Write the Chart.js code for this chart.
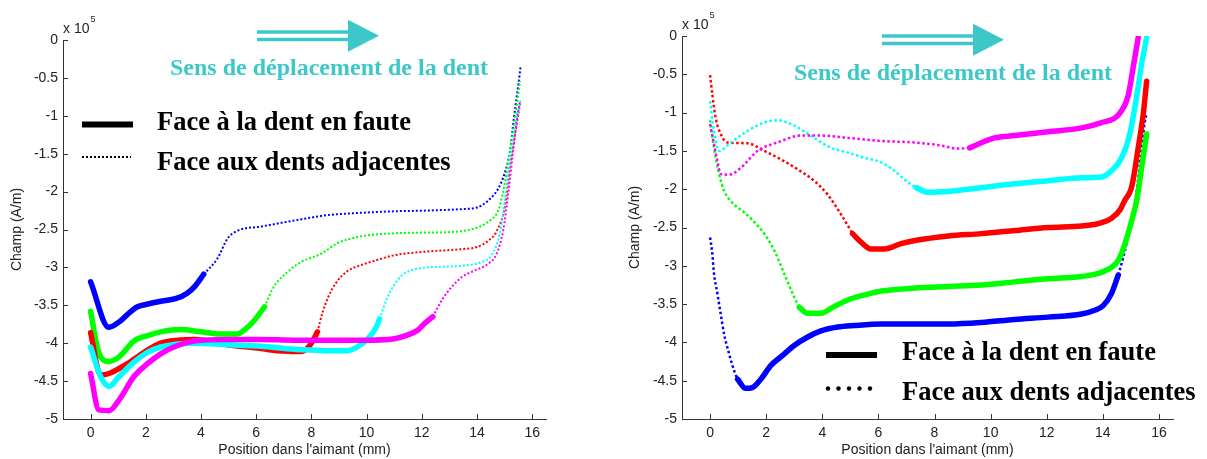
<!DOCTYPE html>
<html>
<head>
<meta charset="utf-8">
<script src="https://cdn.jsdelivr.net/npm/chart.js@4.4.0/dist/chart.umd.min.js"></script>
<style>
  html, body { margin: 0; padding: 0; background: #fff; }
  #wrap { position: relative; width: 1207px; height: 459px; overflow: hidden; }
  canvas { position: absolute; top: 0; }
  #leftChart { left: 0; }
  #rightChart { left: 600px; }
</style>
</head>
<body>
<div id="wrap">
  <canvas id="leftChart" width="600" height="459"></canvas>
  <canvas id="rightChart" width="607" height="459"></canvas>
</div>
<script>
// field values are in units of 1e5 A/m (axis shows "x 10^5")
const xTicks = [0, 2, 4, 6, 8, 10, 12, 14, 16];
const yTicks = [0, -0.5, -1, -1.5, -2, -2.5, -3, -3.5, -4, -4.5, -5];
const seriesColors = ['#0000ff', '#00ff00', '#ff0000', '#00ffff', '#ff00ff'];

const legendSolid = 'Face à la dent en faute';
const legendDotted = 'Face aux dents adjacentes';
const arrowText = 'Sens de déplacement de la dent';

// left plot: solid part first, then the dotted part
const leftBlueSolid = [[0,-3.19],[0.66,-3.79],[1.1,-3.7],[1.4,-3.6],[1.7,-3.52],[2.0,-3.49],[2.5,-3.45],[3.1,-3.41],[3.5,-3.34],[3.8,-3.24],[4.1,-3.09]];
const leftBlueDotted = [[4.1,-3.09],[4.6,-2.88],[4.96,-2.62],[5.3,-2.52],[6.2,-2.46],[7.4,-2.38],[8.6,-2.31],[9.8,-2.28],[11.0,-2.26],[12.2,-2.25],[13.5,-2.23],[14.0,-2.21],[14.4,-2.12],[14.77,-1.96],[15.0,-1.76],[15.2,-1.46],[15.34,-1.02],[15.47,-0.67],[15.58,-0.35]];

const leftGreenSolid = [[0,-3.58],[0.3,-4.13],[0.66,-4.24],[1.03,-4.18],[1.57,-3.97],[2.06,-3.9],[2.54,-3.85],[3.27,-3.82],[4.0,-3.85],[4.7,-3.88],[5.3,-3.88],[5.62,-3.81],[5.93,-3.7],[6.3,-3.52]];
const leftGreenDotted = [[6.3,-3.52],[6.65,-3.25],[7.13,-3.06],[7.62,-2.93],[8.35,-2.82],[8.95,-2.68],[9.8,-2.59],[11.0,-2.55],[12.2,-2.54],[13.2,-2.53],[14.04,-2.47],[14.5,-2.37],[14.78,-2.24],[15.0,-1.9],[15.19,-1.46],[15.38,-1.02],[15.56,-0.54]];

const leftRedSolid = [[0,-3.86],[0.36,-4.42],[0.67,-4.4],[1.33,-4.27],[1.94,-4.12],[2.54,-4.0],[3.15,-3.96],[3.75,-3.95],[4.96,-4.02],[6.17,-4.07],[6.77,-4.1],[7.62,-4.11],[7.9,-4.05],[8.05,-3.97],[8.22,-3.85]];
const leftRedDotted = [[8.22,-3.85],[8.4,-3.6],[8.6,-3.4],[8.9,-3.2],[9.3,-3.05],[9.8,-2.97],[10.4,-2.9],[11.0,-2.84],[12.2,-2.79],[13.4,-2.76],[14.0,-2.73],[14.4,-2.65],[14.7,-2.53],[15.01,-2.2],[15.19,-1.68],[15.38,-1.24],[15.56,-0.84]];

const leftCyanSolid = [[0,-4.05],[0.36,-4.44],[0.67,-4.57],[1.03,-4.44],[1.57,-4.25],[2.06,-4.12],[2.54,-4.05],[3.15,-4.01],[3.75,-4.0],[4.96,-4.02],[6.17,-4.04],[7.38,-4.08],[8.0,-4.09],[8.6,-4.1],[9.3,-4.1],[9.67,-4.05],[10.05,-3.94],[10.35,-3.79],[10.47,-3.68]];
const leftCyanDotted = [[10.47,-3.68],[10.75,-3.4],[11.0,-3.23],[11.3,-3.1],[11.6,-3.04],[12.2,-3.0],[13.4,-2.98],[14.16,-2.93],[14.53,-2.84],[14.83,-2.55],[15.01,-2.12],[15.19,-1.59],[15.38,-1.15],[15.58,-0.8]];

const leftMagentaSolid = [[0,-4.4],[0.3,-4.88],[0.67,-4.89],[1.03,-4.75],[1.57,-4.44],[2.06,-4.27],[2.54,-4.14],[3.15,-4.03],[3.75,-3.97],[4.96,-3.95],[6.17,-3.95],[7.38,-3.96],[8.6,-3.96],[9.8,-3.96],[11.0,-3.94],[11.5,-3.89],[11.85,-3.83],[12.1,-3.74],[12.4,-3.65]];
const leftMagentaDotted = [[12.4,-3.65],[12.73,-3.43],[13.08,-3.26],[13.44,-3.13],[13.92,-3.04],[14.41,-2.95],[14.71,-2.82],[14.95,-2.51],[15.13,-2.03],[15.31,-1.46],[15.44,-1.06],[15.56,-0.8]];

// right plot
const rightBlueDotted = [[0,-2.63],[0.08,-2.84],[0.14,-3.1],[0.26,-3.36],[0.38,-3.63],[0.5,-3.89],[0.68,-4.15],[0.86,-4.37],[0.98,-4.48]];
const rightBlueSolid = [[0.98,-4.48],[1.27,-4.6],[1.51,-4.59],[1.81,-4.48],[2.17,-4.3],[2.52,-4.19],[3.0,-4.04],[3.48,-3.93],[3.95,-3.85],[4.55,-3.8],[5.14,-3.78],[6.1,-3.76],[7.3,-3.76],[8.5,-3.76],[9.67,-3.74],[10.86,-3.7],[12.05,-3.67],[13.24,-3.63],[13.71,-3.58],[14.01,-3.52],[14.31,-3.36],[14.55,-3.12]];
const rightBlueDottedEnd = [[14.55,-3.12],[14.79,-2.8],[14.96,-2.49],[15.14,-2.2],[15.32,-1.67],[15.5,-1.11],[15.56,-1.02]];

const rightGreenDotted = [[0,-1.1],[0.14,-1.46],[0.32,-1.8],[0.5,-2.02],[0.86,-2.2],[1.21,-2.3],[1.5,-2.4],[1.93,-2.58],[2.29,-2.8],[2.64,-3.1],[3.0,-3.41],[3.18,-3.54]];
const rightGreenSolid = [[3.18,-3.54],[3.48,-3.62],[3.95,-3.62],[4.43,-3.53],[5.02,-3.43],[5.62,-3.37],[6.1,-3.33],[7.3,-3.29],[8.5,-3.27],[9.67,-3.25],[10.86,-3.21],[12.05,-3.17],[13.24,-3.14],[13.83,-3.1],[14.31,-3.02],[14.55,-2.93],[14.79,-2.71],[15.05,-2.38],[15.22,-2.12],[15.38,-1.72],[15.56,-1.28]];

const rightRedDotted = [[0,-0.51],[0.08,-0.76],[0.2,-1.07],[0.38,-1.28],[0.62,-1.39],[1.33,-1.4],[1.93,-1.5],[2.52,-1.61],[3.12,-1.74],[3.71,-1.89],[4.19,-2.07],[4.67,-2.33],[5.08,-2.58]];
const rightRedSolid = [[5.08,-2.58],[5.38,-2.69],[5.74,-2.78],[6.21,-2.78],[6.81,-2.71],[7.3,-2.67],[8.5,-2.61],[9.67,-2.58],[10.86,-2.54],[12.05,-2.5],[13.24,-2.48],[13.83,-2.45],[14.31,-2.38],[14.61,-2.27],[14.79,-2.14],[15.02,-1.98],[15.26,-1.46],[15.44,-1.02],[15.56,-0.59]];

const rightCyanDotted = [[0,-0.85],[0.14,-1.24],[0.32,-1.5],[0.74,-1.39],[1.33,-1.24],[1.93,-1.13],[2.4,-1.1],[3.0,-1.17],[3.71,-1.33],[4.31,-1.46],[4.9,-1.52],[5.5,-1.59],[6.1,-1.65],[6.57,-1.76],[7.05,-1.91],[7.35,-1.98]];
const rightCyanSolid = [[7.35,-1.98],[7.76,-2.04],[8.5,-2.03],[9.67,-1.98],[10.86,-1.93],[12.05,-1.89],[13.24,-1.85],[13.95,-1.84],[14.31,-1.76],[14.67,-1.59],[14.96,-1.28],[15.2,-0.8],[15.38,-0.37],[15.56,-0.02]];

const rightMagentaDotted = [[0,-1.15],[0.14,-1.41],[0.26,-1.63],[0.38,-1.8],[0.68,-1.81],[1.1,-1.72],[1.69,-1.5],[2.4,-1.39],[3.24,-1.3],[3.95,-1.3],[4.9,-1.33],[6.1,-1.37],[7.3,-1.39],[8.24,-1.43],[8.83,-1.47],[9.25,-1.46]];
const rightMagentaSolid = [[9.25,-1.46],[10.14,-1.33],[10.86,-1.3],[12.05,-1.25],[13.24,-1.2],[13.95,-1.13],[14.55,-1.03],[14.9,-0.78],[15.08,-0.41],[15.26,-0.02]];

const axisColor = '#333333';
const textColor = '#222222';
const cyanText = '#3cc8c8';
const sansFont = '"Liberation Sans", Arial, sans-serif';
const serifFont = '"Liberation Serif", "Times New Roman", serif';

const decorPlugin = {
    id: 'decor',
    afterDraw(chart, args, o) {
        const c = chart.ctx;
        const { left, top, bottom } = chart.chartArea;
        c.save();

        // tick marks drawn inside the axes
        c.strokeStyle = axisColor;
        c.lineWidth = 1;
        xTicks.forEach(v => {
            const px = Math.round(chart.scales.x.getPixelForValue(v)) + 0.5;
            c.beginPath(); c.moveTo(px, bottom); c.lineTo(px, bottom - 5); c.stroke();
        });
        yTicks.forEach(v => {
            const py = Math.round(chart.scales.y.getPixelForValue(v)) + 0.5;
            c.beginPath(); c.moveTo(left, py); c.lineTo(left + 5, py); c.stroke();
        });

        // x 10^5
        c.fillStyle = textColor;
        c.textAlign = 'left';
        c.textBaseline = 'alphabetic';
        c.font = '14px ' + sansFont;
        c.fillText('x 10', left, top - 7);
        const w = c.measureText('x 10').width;
        c.font = '9px ' + sansFont;
        c.fillText('5', left + w + 1, top - 18);

        // arrow
        const a = o.arrow;
        c.strokeStyle = cyanText;
        c.fillStyle = cyanText;
        c.lineWidth = 3.5;
        [-3.8, 3.8].forEach(d => {
            c.beginPath(); c.moveTo(a.x0, a.y + d); c.lineTo(a.x1, a.y + d); c.stroke();
        });
        c.beginPath();
        c.moveTo(a.x1, a.y - 16); c.lineTo(a.tip, a.y); c.lineTo(a.x1, a.y + 16);
        c.closePath(); c.fill();

        c.font = 'bold 24px ' + serifFont;
        c.fillText(arrowText, o.sens.x, o.sens.y);

        // legend
        const g = o.legend;
        c.strokeStyle = '#000';
        c.fillStyle = '#000';
        c.lineWidth = 6;
        c.beginPath(); c.moveTo(g.x0, g.solidY); c.lineTo(g.x1, g.solidY); c.stroke();
        if (g.roundDots) {
            for (let i = 0; i < 5; i++) {
                c.beginPath();
                c.arc(g.x0 + 2 + i * 10.5, g.dotY, 2.2, 0, Math.PI * 2);
                c.fill();
            }
        } else {
            c.lineWidth = 2;
            c.setLineDash([2, 2]);
            c.beginPath(); c.moveTo(g.x0, g.dotY); c.lineTo(g.x1 - 2, g.dotY); c.stroke();
            c.setLineDash([]);
        }
        c.font = 'bold 26.5px ' + serifFont;
        c.fillText(legendSolid, g.textX, g.base1);
        c.fillText(legendDotted, g.textX, g.base2);

        c.restore();
    }
};

function buildDatasets(parts, look) {
    let sets = [];
    parts.forEach((segs, i) => {
        segs.forEach(seg => {
            sets.push({
                data: seg.pts.map(p => ({ x: p[0], y: p[1] })),
                borderColor: seriesColors[i],
                borderWidth: seg.dotted ? look.dotWidth : look.solidWidth,
                borderDash: seg.dotted ? look.dash : [],
                borderCapStyle: seg.dotted ? 'butt' : 'round',
                borderJoinStyle: 'round',
                pointRadius: 0,
                fill: false,
                cubicInterpolationMode: 'monotone',
                order: 10 - i
            });
        });
    });
    return sets;
}

function makeChart(id, parts, look, geo, decor) {
    const tickFont = { family: sansFont, size: 14 };
    return new Chart(document.getElementById(id), {
        type: 'line',
        data: { datasets: buildDatasets(parts, look) },
        plugins: [decorPlugin],
        options: {
            responsive: false,
            animation: false,
            events: [],
            layout: { padding: { left: 0, right: geo.padRight, top: geo.padTop, bottom: 0 } },
            plugins: {
                legend: { display: false },
                tooltip: { enabled: false },
                decor: decor
            },
            scales: {
                x: {
                    type: 'linear',
                    min: -1,
                    max: 16.5,
                    afterBuildTicks: s => { s.ticks = xTicks.map(v => ({ value: v })); },
                    afterFit: s => { s.height = 40; },
                    grid: { display: false, drawTicks: false },
                    border: { display: true, color: axisColor, width: 1 },
                    ticks: { font: tickFont, color: textColor, padding: 6, maxRotation: 0, autoSkip: false, callback: v => String(v) },
                    title: { display: true, text: "Position dans l'aimant (mm)", font: tickFont, color: textColor, padding: { top: 0, bottom: 0 } }
                },
                y: {
                    type: 'linear',
                    min: -5,
                    max: 0,
                    afterBuildTicks: s => { s.ticks = yTicks.map(v => ({ value: v })); },
                    afterFit: s => { s.width = geo.axisLeft; },
                    grid: { display: false, drawTicks: false },
                    border: { display: true, color: axisColor, width: 1 },
                    ticks: { font: tickFont, color: textColor, padding: 5, autoSkip: false, callback: v => String(v) },
                    title: { display: true, text: 'Champ (A/m)', font: tickFont, color: textColor, padding: { top: geo.titlePad, bottom: 0 } }
                }
            }
        }
    });
}

document.addEventListener('DOMContentLoaded', function () {
    const leftParts = [
        [{ pts: leftBlueSolid }, { pts: leftBlueDotted, dotted: true }],
        [{ pts: leftGreenSolid }, { pts: leftGreenDotted, dotted: true }],
        [{ pts: leftRedSolid }, { pts: leftRedDotted, dotted: true }],
        [{ pts: leftCyanSolid }, { pts: leftCyanDotted, dotted: true }],
        [{ pts: leftMagentaSolid }, { pts: leftMagentaDotted, dotted: true }]
    ];
    const rightParts = [
        [{ pts: rightBlueDotted, dotted: true }, { pts: rightBlueSolid }, { pts: rightBlueDottedEnd, dotted: true }],
        [{ pts: rightGreenDotted, dotted: true }, { pts: rightGreenSolid }],
        [{ pts: rightRedDotted, dotted: true }, { pts: rightRedSolid }],
        [{ pts: rightCyanDotted, dotted: true }, { pts: rightCyanSolid }],
        [{ pts: rightMagentaDotted, dotted: true }, { pts: rightMagentaSolid }]
    ];

    makeChart('leftChart', leftParts,
        { solidWidth: 5.5, dotWidth: 2, dash: [2, 2] },
        { padRight: 54, padTop: 40, axisLeft: 63, titlePad: 9 },
        {
            arrow: { x0: 257, x1: 348, tip: 379, y: 35.8 },
            sens: { x: 170, y: 75 },
            legend: { x0: 82, x1: 133, solidY: 124.5, dotY: 157, textX: 157, base1: 130, base2: 170, roundDots: false }
        });

    makeChart('rightChart', rightParts,
        { solidWidth: 5.5, dotWidth: 2.5, dash: [2.5, 2.5] },
        { padRight: 34, padTop: 36, axisLeft: 82, titlePad: 27 },
        {
            arrow: { x0: 282, x1: 373, tip: 404, y: 39.8 },
            sens: { x: 194, y: 80 },
            legend: { x0: 226, x1: 277, solidY: 355, dotY: 388.5, textX: 302, base1: 359.5, base2: 399.5, roundDots: true }
        });
});
</script>
</body>
</html>
